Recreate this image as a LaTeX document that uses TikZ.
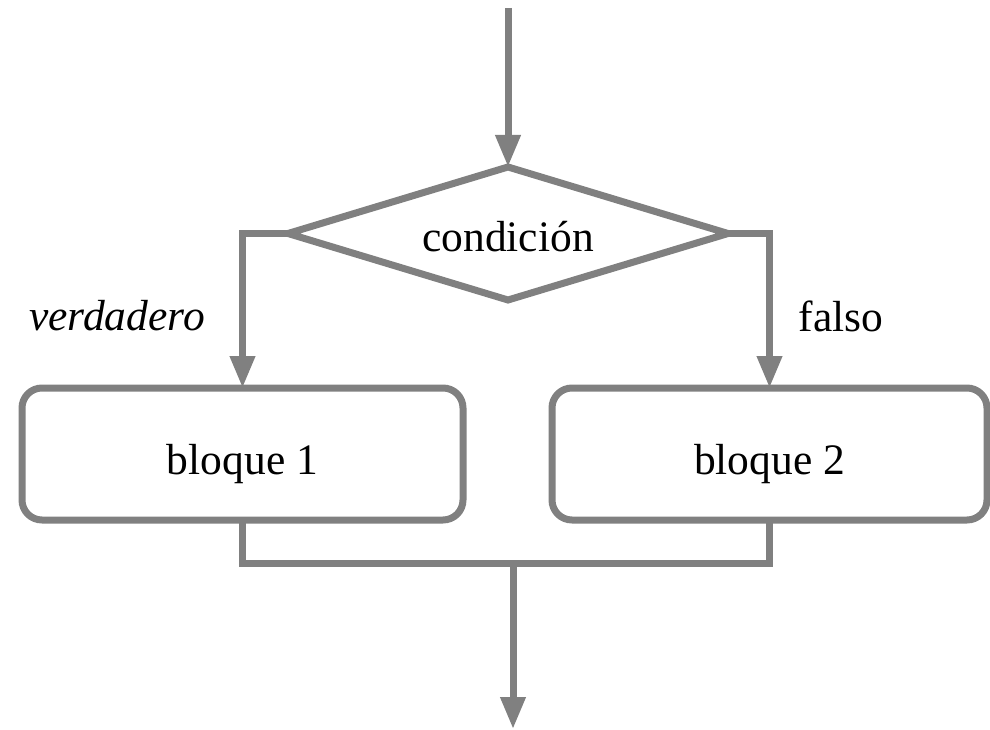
\documentclass[tikz,border=0pt]{standalone}
\usepackage{fontspec}
\setmainfont{Liberation Serif}
\usetikzlibrary{shapes.geometric,arrows.meta}
\definecolor{flowgray}{RGB}{128,128,128}
\begin{document}
\begin{tikzpicture}[x=1pt, y=-1pt]
    % Define styles
    \tikzset{
        decision/.style={draw=flowgray, line width=7pt, diamond, aspect=3.3, minimum width=440pt, minimum height=133pt, inner sep=0pt, outer sep=0pt, text height=46pt, text depth=10pt, font=\fontsize{43.5}{52}\selectfont},
        block/.style={draw=flowgray, line width=7pt, rounded corners=20pt, minimum width=441pt, minimum height=132pt, outer sep=0pt, text height=50pt, text depth=10pt, font=\fontsize{43.5}{52}\selectfont},
        thickarrow/.style={-{Triangle[length=32pt, width=24pt]}, draw=flowgray, line width=7pt},
        thickline/.style={draw=flowgray, line width=7pt},
        branch/.style={font=\fontsize{43.5}{52}\selectfont}
    }
    \useasboundingbox (0,0) rectangle (990,730);

    % Decision
    \node[decision] (cond) at (508,233.5) {condición};

    % Blocks
    \node[block] (blk1) at (242.5,454) {bloque 1};
    \node[block, minimum width=435pt] (blk2) at (769.5,454) {bloque 2};

    % Branch labels
    \node[branch, font=\fontsize{43.5}{52}\selectfont\itshape] (yes) at (117,316) {verdadero};
    \node[branch] (no) at (841,316) {falso};

    % Entry and exit points
    \coordinate (entry) at (508,8);
    \coordinate (join) at (513,563);
    \coordinate (exit) at (513,729);

    % Arrows
    \draw[thickarrow] (entry) -- (cond.north);
    \draw[thickarrow] (cond.west) -| (blk1.north);
    \draw[thickarrow] (cond.east) -| (blk2.north);
    \draw[thickline] (blk1.south) |- (join) -| (blk2.south);
    \draw[thickarrow] (join) -- (exit);

\end{tikzpicture}
\end{document}
